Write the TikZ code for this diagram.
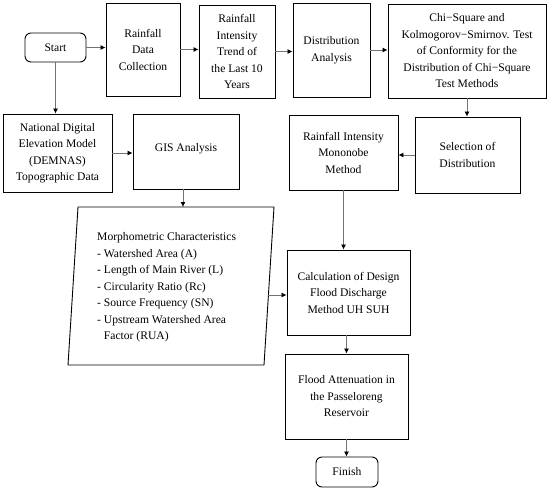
\documentclass[tikz,border=0pt]{standalone}
\usepackage{fontspec}
\setmainfont{Liberation Serif}
\usetikzlibrary{arrows.meta}
\newcommand\myfs{\fontsize{11.6}{16.5}\selectfont}
\begin{document}
\begin{tikzpicture}[x=1pt,y=-1pt,
  box/.style={draw, line width=0.9pt, align=center, inner sep=0pt, font=\myfs},
  rbox/.style={box, rounded corners=6pt},
  conn/.style={draw=black!55, line width=0.8pt, -{Latex[length=5pt,width=5pt,black]}}]
\useasboundingbox (0,0) rectangle (550,491);
\node[rbox, minimum width=61, minimum height=29] (start) at (55.5,47.5) {Start};
\node[box, minimum width=74, minimum height=93] (rdc) at (143,49.5) {Rainfall\\Data\\Collection};
\node[box, minimum width=76, minimum height=93] (rit) at (237,51.5) {Rainfall\\Intensity\\Trend of\\the Last 10\\Years};
\node[box, minimum width=77, minimum height=94] (da) at (331.5,50) {Distribution\\Analysis};
\node[box, minimum width=158, minimum height=94] (chi) at (467,51) {Chi−Square and\\Kolmogorov−Smirnov. Test\\of Conformity for the\\Distribution of Chi−Square\\Test Methods};
\node[box, minimum width=105, minimum height=76] (sel) at (467.5,155) {Selection of\\Distribution};
\node[box, minimum width=109, minimum height=75] (mono) at (343.5,152.5) {Rainfall Intensity\\Mononobe\\Method};
\node[box, minimum width=109, minimum height=78] (dem) at (57.5,153) {National Digital\\Elevation Model\\(DEMNAS)\\Topographic Data};
\node[box, minimum width=106, minimum height=75, text depth=8pt] (gis) at (186,151.5) {GIS Analysis};
\node[box, minimum width=123, minimum height=85] (calc) at (348.5,292.5) {Calculation of Design\\Flood Discharge\\Method UH SUH};
\node[box, minimum width=123, minimum height=85] (flood) at (346.5,396.5) {Flood Attenuation in\\the Passeloreng\\Reservoir};
\node[rbox, minimum width=62, minimum height=30] (finish) at (347,472) {Finish};
% parallelogram
\draw[line width=0.9pt] (78,207) -- (274,207) -- (264,365) -- (68,365) -- cycle;
\node[align=left, anchor=west, inner sep=0pt, font=\myfs] (morph) at (97,287.5) {Morphometric Characteristics\\- Watershed Area (A)\\- Length of Main River (L)\\- Circularity Ratio (Rc)\\- Source Frequency (SN)\\- Upstream Watershed Area\\\hphantom{- }Factor (RUA)};
\coordinate (ptop) at (183,207);
\coordinate (pright) at (268.4,295);
% connectors
\draw[conn] (start.east) -- (rdc.west |- start.east);
\draw[conn] (rdc.east) -- (rit.west |- rdc.east);
\draw[conn] (rit.east) -- (da.west |- rit.east);
\draw[conn] (da.east) -- (chi.west |- da.east);
\draw[conn] (chi.south) -- (sel.north -| chi.south);
\draw[conn] (sel.west) -- (mono.east |- sel.west);
\draw[conn] (start.south) -- (dem.north -| start.south);
\draw[conn] (dem.east) -- (gis.west |- dem.east);
\draw[conn] (gis.south -| ptop) -- (ptop);
\draw[conn] (mono.south) -- (calc.north -| mono.south);
\draw[conn] (pright) -- (calc.west |- pright);
\draw[conn] (flood.north |- calc.south) -- (flood.north);
\draw[conn] (flood.south) -- (finish.north -| flood.south);
\end{tikzpicture}
\end{document}
